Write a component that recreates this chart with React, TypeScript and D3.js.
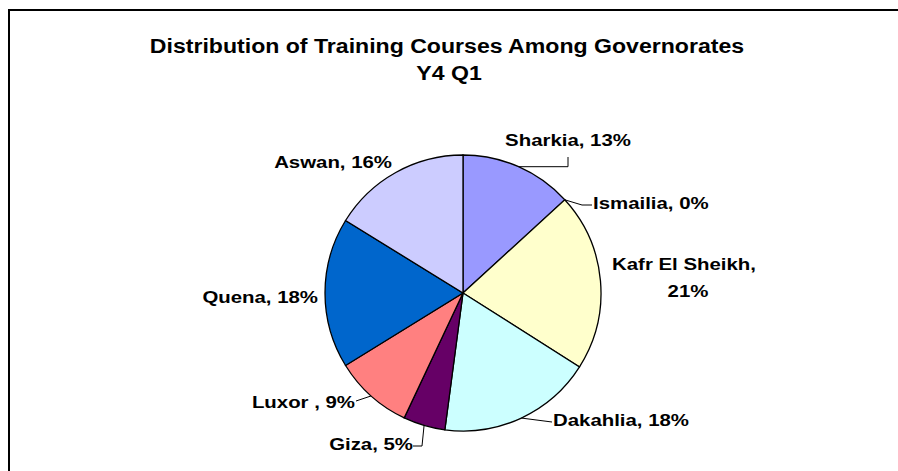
import React from "react";
import * as d3 from "d3";

const title1 = "Distribution of Training Courses Among Governorates";
const title2 = "Y4 Q1";
const names = ["Sharkia", "Ismailia", "Kafr El Sheikh", "Dakahlia", "Giza", "Luxor ", "Quena", "Aswan"];
const values = [13.2, 0, 20.8, 18.1, 4.9, 9.2, 17.6, 16.2];
const colors = ["#9999FF", "#993366", "#FFFFCC", "#CCFFFF", "#660066", "#FF8080", "#0066CC", "#CCCCFF"];

// layout (label anchor positions, leader elbows) — style, not data
type Lay = { x: number; y: number; anchor: string; split?: boolean; leader?: number[][] };
const layout: Lay[] = [
  { x: 568, y: 140, anchor: "middle", leader: [[568, -1], [568, 157]] },
  { x: 593, y: 203, anchor: "start", leader: [[582, 205], [592, 205]] },
  { x: 684, y: 264, anchor: "middle", split: true },
  { x: 553, y: 420, anchor: "start", leader: [[552, 422]] },
  { x: 413, y: 444, anchor: "end", leader: [[422, 446], [413, 446]] },
  { x: 355, y: 402, anchor: "end", leader: [[356, 401]] },
  { x: 318, y: 297, anchor: "end" },
  { x: 392, y: 162, anchor: "end" },
];

const W = 898, H = 471;
const cx = 463, cy = 293, R = 138;
const FONT = "'Liberation Sans', Arial, sans-serif";

export default function App() {
  const pie = d3.pie<number>().sort(null).value((d) => d).startAngle(0).endAngle(2 * Math.PI);
  const arcs = pie(values);
  const arcGen = d3.arc<d3.PieArcDatum<number>>().innerRadius(0).outerRadius(R);
  const total = d3.sum(values);

  const Txt = (p: { x: number; y: number; anchor: string; size: number; sx?: number; children: any }) => (
    <g transform={`translate(${p.x},${p.y}) scale(${p.sx ?? 1.2},1)`}>
      <text textAnchor={p.anchor} fontFamily={FONT} fontWeight="bold" fontSize={p.size} fill="#000">
        {p.children}
      </text>
    </g>
  );

  return (
    <svg width={W} height={H} style={{ position: "absolute", left: 0, top: 0, background: "#fff" }}>
      <rect x={0} y={0} width={W} height={H} fill="#fff" />
      <rect x={9} y={10} width={1000} height={1000} fill="none" stroke="#000" strokeWidth={2} />
      <Txt x={447} y={53} anchor="middle" size={21} sx={1.1}>{title1}</Txt>
      <Txt x={449} y={80} anchor="middle" size={21} sx={1.1}>{title2}</Txt>
      <g transform={`translate(${cx},${cy})`}>
        {arcs.map((a, i) =>
          a.endAngle - a.startAngle > 0 ? (
            <path key={i} d={arcGen(a) || ""} fill={colors[i]} stroke="#000" strokeWidth={1.3} />
          ) : null
        )}
      </g>
      {arcs.map((a, i) => {
        const L = layout[i];
        const mid = (a.startAngle + a.endAngle) / 2;
        const px = cx + R * Math.sin(mid);
        const py = cy - R * Math.cos(mid);
        const pct = Math.round((values[i] / total) * 100) + "%";
        let leader = null;
        if (L.leader) {
          const pts = [[px, py], ...L.leader.map(([x, y]) => [x, y < 0 ? py : y])];
          leader = (
            <polyline points={pts.map((p) => p.join(",")).join(" ")} fill="none" stroke="#000" strokeWidth={1} />
          );
        }
        return (
          <g key={"l" + i}>
            {leader}
            {L.split ? (
              <>
                <Txt x={L.x} y={L.y + 6} anchor={L.anchor} size={17}>{names[i] + ","}</Txt>
                <Txt x={L.x + 4} y={L.y + 33} anchor={L.anchor} size={17}>{pct}</Txt>
              </>
            ) : (
              <Txt x={L.x} y={L.y + 6} anchor={L.anchor} size={17}>{names[i] + ", " + pct}</Txt>
            )}
          </g>
        );
      })}
    </svg>
  );
}
